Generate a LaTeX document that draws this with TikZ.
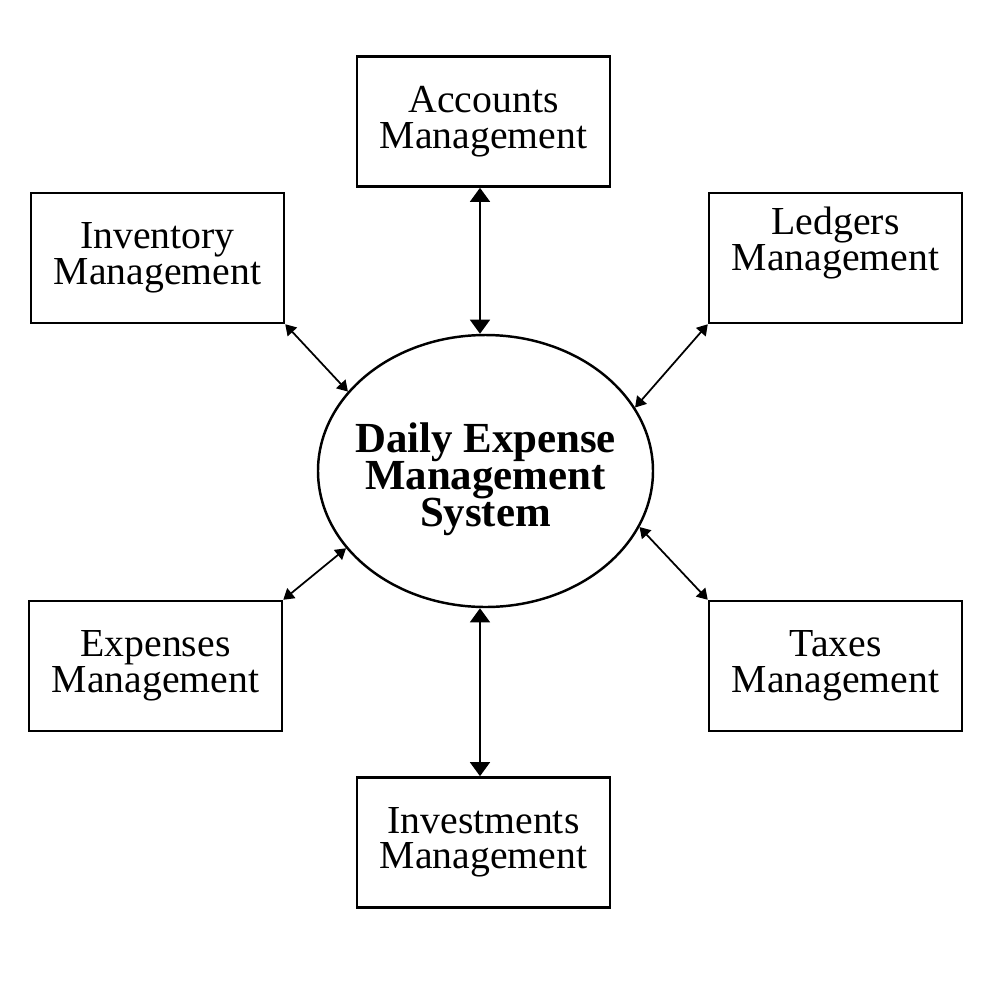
\documentclass[tikz,border=0pt]{standalone}
\usepackage{fontspec}
\setmainfont{Liberation Serif}
\usetikzlibrary{arrows.meta,shapes.geometric,positioning}
\newcommand{\tightlines}{\lineskiplimit=-5pt\relax}

\begin{document}
\begin{tikzpicture}[x=0.1mm,y=-0.1mm,
  box/.style={draw,line width=0.7pt,align=center,
              minimum width=25.3mm,minimum height=13mm,inner sep=2pt,
              font=\fontsize{11.3}{10.1}\selectfont\tightlines},
  big/.style={{Triangle[length=4pt,width=5.6pt]}-{Triangle[length=4pt,width=5.6pt]},line width=0.75pt},
  small/.style={{Triangle[length=3pt,width=3.6pt]}-{Triangle[length=3pt,width=3.6pt]},line width=0.5pt}]
\useasboundingbox (0,0) rectangle (1000,1000);
\node (sys) [draw,ellipse,line width=0.7pt,minimum width=33.5mm,minimum height=27.2mm,
      inner xsep=-3mm,inner ysep=0pt,align=center,
      font=\fontsize{12.2}{10.5}\selectfont\bfseries\tightlines]
      at (485.5,471) {\rule{0pt}{13pt}Daily Expense\\ Management\\ System};
\node (acc) [box,above=14.6mm of sys,xshift=-0.2mm] {Accounts\\ Management};
\node (invest) [box,below=16.8mm of sys,xshift=-0.2mm] {Investments\\ Management};
\node (inv) [box] at (157.5,258) {Inventory\\ Management};
\node (led) [box] at (835.5,258) {Ledgers\\ Management\rule[-11pt]{0pt}{1pt}};
\node (exp) [box] at (155.5,666) {Expenses\\ Management};
\node (tax) [box] at (835.5,666) {Taxes\\ Management};
\draw[big] ([xshift=-0.35mm]acc.south) -- ([xshift=-0.35mm]acc.south |- sys.north);
\draw[big] ([xshift=-0.35mm]invest.north |- sys.south) -- ([xshift=-0.35mm]invest.north);
\draw[small] (inv.south east) -- (sys.150);
\draw[small] (led.south west) -- (sys.23);
\draw[small] (exp.north east) -- (sys.209);
\draw[small] (tax.north west) -- (sys.-20);
\end{tikzpicture}
\end{document}
